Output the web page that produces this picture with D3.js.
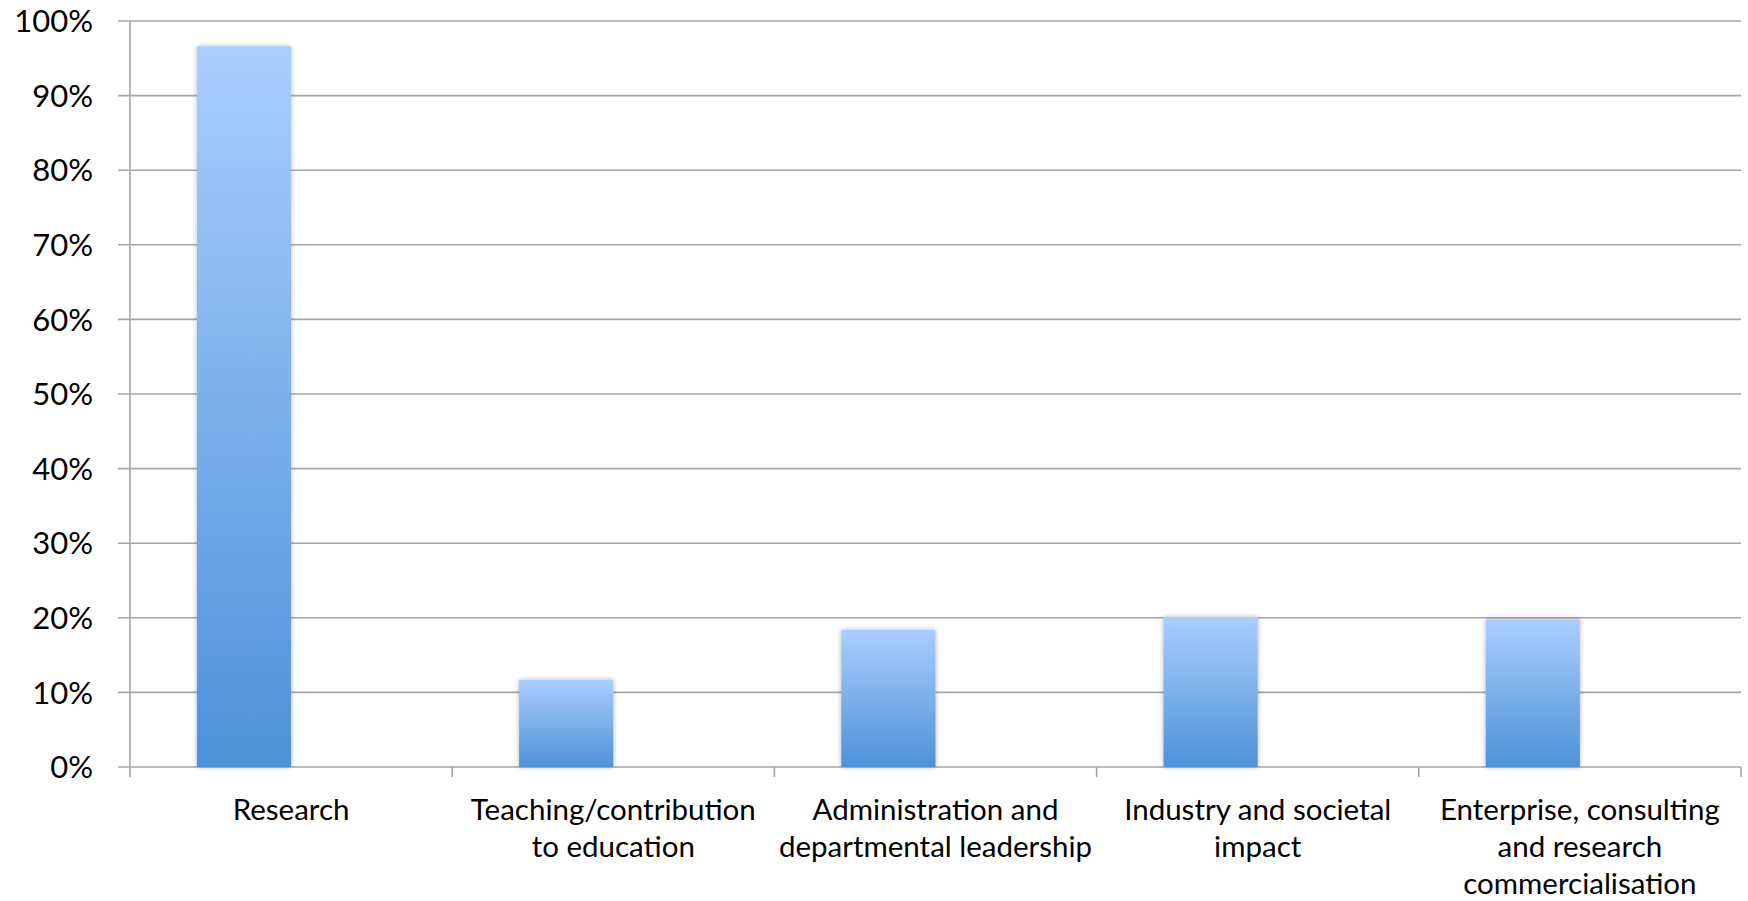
<!DOCTYPE html>
<html>
<head>
<meta charset="utf-8">
<script src="https://cdn.jsdelivr.net/npm/d3@7"></script>
<style>
  html, body { margin: 0; padding: 0; background: #fff; }
  svg text { font-family: Lato, "Open Sans", sans-serif; fill: #000; }
</style>
</head>
<body>
<svg id="chart" width="1748" height="901"></svg>
<script>
const categories = [
  ["Research"],
  ["Teaching/contribution", "to education"],
  ["Administration and", "departmental leadership"],
  ["Industry and societal", "impact"],
  ["Enterprise, consulting", "and research", "commercialisation"]
];
const categoryKeys = ["Research", "Teaching", "Administration", "Industry", "Enterprise"];
const values = [0.966, 0.117, 0.184, 0.201, 0.198];
const seriesSlots = ["share", "empty"];
const yTicks = [0, 0.1, 0.2, 0.3, 0.4, 0.5, 0.6, 0.7, 0.8, 0.9, 1.0];

const W = 1748, H = 901;
const margin = {left: 130, right: 7, top: 21, bottom: 134};
const svg = d3.select("#chart");

const x = d3.scaleBand().domain(categoryKeys).range([margin.left, W - margin.right]).paddingInner(0).paddingOuter(0);
const xs = d3.scaleBand().domain(seriesSlots).range([0, x.bandwidth()]).paddingInner(0).paddingOuter(0.71);
const y = d3.scaleLinear().domain([0, 1]).range([H - margin.bottom, margin.top]);

const defs = svg.append("defs");
const grad = defs.append("linearGradient").attr("id", "barGrad")
  .attr("x1", 0).attr("y1", 0).attr("x2", 0).attr("y2", 1);
grad.append("stop").attr("offset", "0%").attr("stop-color", "#aacefe");
grad.append("stop").attr("offset", "100%").attr("stop-color", "#4d92d8");
const f = defs.append("filter").attr("id", "shadow").attr("x", "-20%").attr("y", "-5%").attr("width", "140%").attr("height", "110%");
f.append("feDropShadow").attr("dx", 0).attr("dy", 0).attr("stdDeviation", 2.5).attr("flood-color", "#000").attr("flood-opacity", 0.3);

// gridlines
svg.append("g").selectAll("line").data(yTicks).join("line")
  .attr("x1", margin.left - 12).attr("x2", W - margin.right)
  .attr("y1", d => y(d)).attr("y2", d => y(d))
  .attr("stroke", "#a6a6a6").attr("stroke-width", 1.6);

// y labels
svg.append("g").selectAll("text").data(yTicks).join("text")
  .attr("x", 93).attr("y", d => y(d)).attr("dy", "0.36em")
  .attr("text-anchor", "end").attr("font-size", 31)
  .text(d => d3.format(".0%")(d));

// y axis line
svg.append("line").attr("x1", margin.left).attr("x2", margin.left)
  .attr("y1", y(1)).attr("y2", y(0) + 10)
  .attr("stroke", "#a6a6a6").attr("stroke-width", 1.6);

// x ticks
const bounds = categoryKeys.map(k => x(k)).concat([W - margin.right]);
svg.append("g").selectAll("line").data(bounds.slice(1)).join("line")
  .attr("x1", d => d).attr("x2", d => d)
  .attr("y1", y(0)).attr("y2", y(0) + 10)
  .attr("stroke", "#a6a6a6").attr("stroke-width", 1.6);

// bars
svg.append("g").selectAll("rect").data(values).join("rect")
  .attr("x", (d, i) => x(categoryKeys[i]) + xs("share"))
  .attr("width", xs.bandwidth())
  .attr("y", d => y(d))
  .attr("height", d => y(0) - y(d))
  .attr("fill", "url(#barGrad)")
  .attr("filter", "url(#shadow)");

// x labels
const lab = svg.append("g").selectAll("text").data(categories).join("text")
  .attr("text-anchor", "middle").attr("font-size", 29.5)
  .attr("transform", (d, i) => `translate(${x(categoryKeys[i]) + x.bandwidth() / 2},${y(0) + 53})`);
lab.selectAll("tspan").data(d => d).join("tspan")
  .attr("x", 0).attr("dy", (d, i) => i === 0 ? 0 : 37).text(d => d);
</script>
</body>
</html>
